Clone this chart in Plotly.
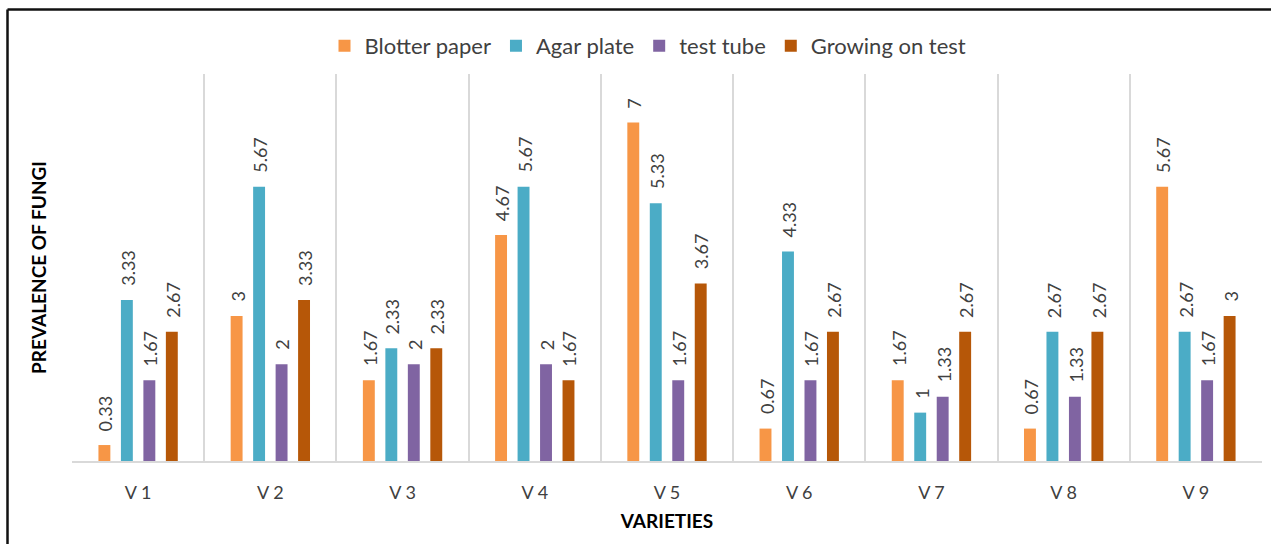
import plotly.graph_objects as go

# Fungal prevalence per variety under four detection methods
varieties = ["V 1", "V 2", "V 3", "V 4", "V 5", "V 6", "V 7", "V 8", "V 9"]
blotter_paper = [0.33, 3, 1.67, 4.67, 7, 0.67, 1.67, 0.67, 5.67]
agar_plate = [3.33, 5.67, 2.33, 5.67, 5.33, 4.33, 1, 2.67, 2.67]
test_tube = [1.67, 2, 2, 2, 1.67, 1.67, 1.33, 1.33, 1.67]
growing_on_test = [2.67, 3.33, 2.33, 1.67, 3.67, 2.67, 2.67, 2.67, 3]

series = [
    ("Blotter paper", blotter_paper, "#F79646"),
    ("Agar plate", agar_plate, "#4BACC6"),
    ("test tube", test_tube, "#8064A2"),
    ("Growing on test", growing_on_test, "#B65708"),
]

FONT = "Lato"
TEXT = "#404040"

W, H = 1271, 544
L, R, T, B = 72, 9, 74, 83
pw, ph = W - L - R, H - T - B
BARGAP, GROUPGAP = 0.32, 0.47


def px_x(p):
    return (p - L) / pw


def px_y(p):
    return 1 - (p - T) / ph


fig = go.Figure()
for name, vals, color in series:
    fig.add_trace(go.Bar(
        name=name,
        x=varieties,
        y=vals,
        marker=dict(color=color, line=dict(width=0)),
    ))

# value labels, rotated, sitting a little above each bar
cat_w = pw / len(varieties)
slot = (1 - BARGAP) * cat_w / len(series)
for i, (name, vals, color) in enumerate(series):
    offset = (i - (len(series) - 1) / 2) * slot
    for cat, v in zip(varieties, vals):
        fig.add_annotation(
            x=cat, y=v, xref="x", yref="y",
            text=f"{v:g}",
            textangle=-90,
            showarrow=False,
            xanchor="center", yanchor="bottom",
            xshift=offset + 1, yshift=12,
            font=dict(family=FONT, size=18, color=TEXT),
        )

# outer frame (top and left edges)
fx, fy = px_x(7.5), px_y(9.5)
fig.add_shape(type="line", xref="paper", yref="paper",
              x0=fx, x1=px_x(W + 10), y0=fy, y1=fy,
              line=dict(color="#111111", width=2.5))
fig.add_shape(type="line", xref="paper", yref="paper",
              x0=fx, x1=fx, y0=fy, y1=px_y(H + 10),
              line=dict(color="#111111", width=2.5))

fig.update_layout(
    width=W, height=H,
    margin=dict(l=L, r=R, t=T, b=B, autoexpand=False),
    paper_bgcolor="white",
    plot_bgcolor="white",
    barmode="group",
    bargap=BARGAP,
    bargroupgap=GROUPGAP,
    font=dict(family=FONT, color=TEXT),
    showlegend=True,
    legend=dict(
        orientation="h",
        x=px_x(648), xanchor="center",
        y=px_y(46), yanchor="middle",
        font=dict(family=FONT, size=22, color=TEXT),
        traceorder="normal",
    ),
    xaxis=dict(
        type="category",
        tickson="boundaries",
        showgrid=True,
        gridcolor="#D9D9D9",
        gridwidth=1.5,
        ticks="",
        showline=True,
        linecolor="#D9D9D9",
        linewidth=1.5,
        zeroline=False,
        tickfont=dict(family=FONT, size=18, color=TEXT),
        ticklabelstandoff=15,
        title=dict(text="<b>VARIETIES</b>",
                   font=dict(family=FONT, size=19, color="#000000"),
                   standoff=12),
        automargin=False,
    ),
    yaxis=dict(
        range=[0, 8],
        showgrid=False,
        showticklabels=False,
        zeroline=False,
        showline=False,
        ticks="",
        title=dict(text="<b>PREVALENCE OF FUNGI</b>",
                   font=dict(family=FONT, size=19, color="#000000"),
                   standoff=19),
        automargin=False,
    ),
)

fig.write_html("out.html")
